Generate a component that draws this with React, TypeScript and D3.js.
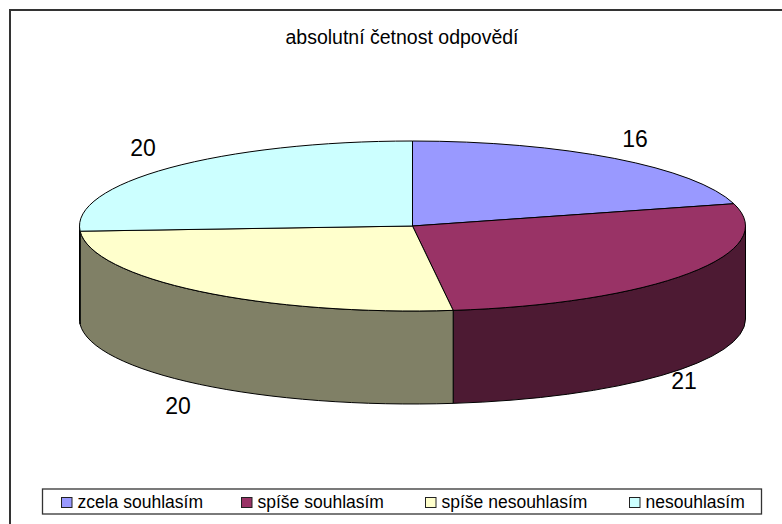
import React from "react";
import * as d3 from "d3";

const categories = ["zcela souhlasím", "spíše souhlasím", "spíše nesouhlasím", "nesouhlasím"];
const values = [16, 21, 20, 20];
const topColors = ["#9999FF", "#993366", "#FFFFCC", "#CCFFFF"];
const sideColors = ["#4D4D80", "#4D1A33", "#808066", "#668080"];
const labelPositions = [[635, 147], [684, 389], [178, 414], [143, 156]];
const legendX = [61.5, 241.5, 425.5, 629.5];

const cx = 412.5, cy = 226, rx = 333, ry = 85, depth = 93;
const pt = (a: number, dy = 0) => [cx + rx * Math.sin(a), cy - ry * Math.cos(a) + dy];

const pie = d3.pie<number>().sort(null)(values);

function topPath(a0: number, a1: number) {
  const [x0, y0] = pt(a0), [x1, y1] = pt(a1);
  return `M${cx},${cy}L${x0},${y0}A${rx},${ry} 0 ${a1 - a0 > Math.PI ? 1 : 0} 1 ${x1},${y1}Z`;
}
function sidePath(a0: number, a1: number) {
  const s = Math.max(a0, Math.PI / 2), e = Math.min(a1, 1.5 * Math.PI);
  if (e <= s) return null;
  const [x0, y0] = pt(s), [x1, y1] = pt(e);
  return `M${x0},${y0}A${rx},${ry} 0 0 1 ${x1},${y1}L${x1},${y1 + depth}A${rx},${ry} 0 0 0 ${x0},${y0 + depth}Z`;
}

export default function App() {
  const font = "'Liberation Sans', Arial, sans-serif";
  return (
    <svg width={782} height={524} style={{ position: "absolute", left: 0, top: 0, background: "#fff" }} fontFamily={font}>
      <path d="M10,524V10H782" fill="none" stroke="#333" strokeWidth={2} />
      <text x={402} y={44} textAnchor="middle" fontSize={19.5}>absolutní četnost odpovědí</text>
      {pie.map((d, i) => {
        const p = sidePath(d.startAngle, d.endAngle);
        return p ? <path key={i} d={p} fill={sideColors[i]} stroke="#000" strokeWidth={1} /> : null;
      })}
      {pie.map((d, i) => (
        <path key={i} d={topPath(d.startAngle, d.endAngle)} fill={topColors[i]} stroke="#000" strokeWidth={1} />
      ))}
      {values.map((v, i) => (
        <text key={i} x={labelPositions[i][0]} y={labelPositions[i][1]} textAnchor="middle" fontSize={23}>{v}</text>
      ))}
      <rect x={42.5} y={489} width={719} height={25} fill="#fff" stroke="#333" strokeWidth={1.3} />
      {categories.map((c, i) => (
        <g key={c}>
          <rect x={legendX[i]} y={497.5} width={10.5} height={10} fill={topColors[i]} stroke="#222" />
          <text x={legendX[i] + 16} y={508} fontSize={17.5}>{c}</text>
        </g>
      ))}
    </svg>
  );
}
